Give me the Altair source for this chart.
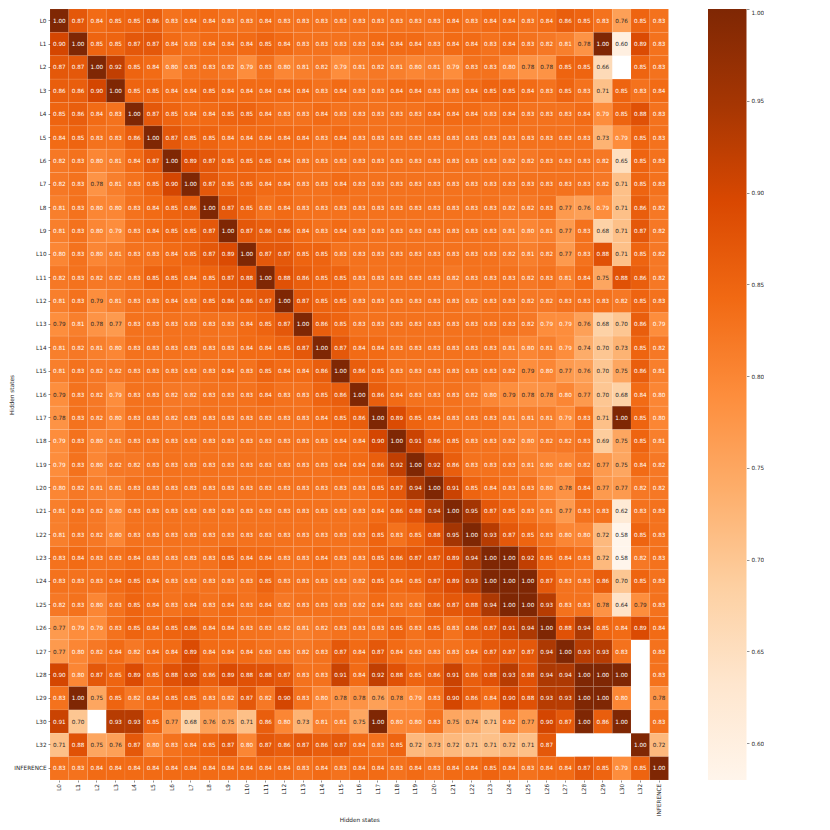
import altair as alt
import pandas as pd

LABELS = ["L%d" % i for i in range(31)] + ["L32", "INFERENCE"]

L0 = [1.00,.87,.84,.85,.85,.86,.83,.84,.84,.83,.83,.84,.83,.83,.83,.83,.83,.83,.83,.83,.83,.84,.83,.84,.84,.83,.84,.86,.85,.83,.76,.85,.83]
L1 = [.90,1.00,.85,.85,.87,.87,.84,.83,.84,.84,.84,.85,.84,.83,.83,.83,.83,.84,.84,.84,.83,.84,.84,.83,.84,.83,.82,.81,.78,1.00,.60,.89,.83]
L2 = [.87,.87,1.00,.92,.85,.84,.80,.83,.83,.82,.79,.83,.80,.81,.82,.79,.81,.82,.81,.80,.81,.79,.83,.83,.80,.78,.78,.85,.85,.66,None,.85,.83]
L3 = [.86,.86,.90,1.00,.85,.85,.84,.84,.85,.84,.84,.84,.84,.84,.83,.84,.83,.83,.84,.84,.83,.83,.84,.85,.85,.84,.83,.85,.83,.71,.85,.83,.84]
L4 = [.85,.86,.84,.83,1.00,.87,.85,.84,.84,.85,.85,.84,.83,.83,.84,.83,.83,.83,.83,.83,.84,.84,.84,.83,.84,.83,.83,.83,.84,.79,.85,.88,.83]
L5 = [.84,.85,.83,.83,.86,1.00,.87,.85,.85,.84,.84,.84,.84,.84,.83,.84,.83,.83,.83,.83,.83,.83,.83,.83,.83,.83,.83,.83,.83,.73,.79,.85,.83]
L6 = [.82,.83,.80,.81,.84,.87,1.00,.89,.87,.85,.85,.85,.84,.83,.83,.83,.83,.83,.83,.83,.83,.83,.83,.83,.82,.82,.83,.83,.83,.82,.65,.85,.83]
L7 = [.82,.83,.78,.81,.83,.85,.90,1.00,.87,.85,.85,.84,.84,.83,.83,.84,.83,.83,.83,.83,.83,.83,.83,.83,.83,.83,.83,.83,.83,.82,.71,.85,.83]
L8 = [.81,.83,.80,.80,.83,.84,.85,.86,1.00,.87,.85,.83,.84,.83,.83,.83,.83,.83,.83,.83,.83,.83,.83,.83,.82,.82,.83,.77,.76,.79,.71,.86,.82]
L9 = [.81,.83,.80,.79,.83,.84,.85,.85,.87,1.00,.87,.86,.86,.84,.83,.84,.83,.83,.83,.83,.83,.83,.83,.83,.81,.80,.81,.77,.83,.68,.71,.87,.82]
L10 = [.80,.83,.80,.81,.83,.83,.84,.85,.87,.89,1.00,.87,.87,.85,.85,.83,.83,.83,.83,.83,.83,.83,.83,.83,.82,.81,.82,.77,.83,.88,.71,.85,.82]
L11 = [.82,.83,.82,.82,.83,.85,.85,.84,.85,.87,.88,1.00,.88,.86,.85,.85,.83,.83,.83,.83,.83,.82,.83,.83,.83,.82,.83,.81,.84,.75,.88,.86,.82]
L12 = [.81,.83,.789,.81,.83,.83,.84,.83,.85,.86,.86,.87,1.00,.87,.85,.85,.83,.83,.83,.83,.83,.83,.82,.83,.83,.82,.82,.83,.83,.83,.82,.85,.83]
L13 = [.789,.81,.78,.77,.83,.83,.83,.83,.83,.83,.84,.85,.87,1.00,.86,.85,.83,.83,.83,.83,.83,.83,.83,.83,.83,.82,.79,.79,.76,.68,.70,.86,.79]
L14 = [.81,.82,.81,.80,.83,.83,.83,.83,.83,.83,.84,.84,.85,.87,1.00,.87,.84,.84,.83,.83,.83,.83,.83,.83,.81,.80,.81,.79,.74,.70,.73,.85,.82]
L15 = [.81,.83,.82,.82,.83,.83,.83,.83,.83,.84,.83,.85,.84,.84,.86,1.00,.86,.85,.83,.83,.83,.83,.83,.83,.82,.789,.80,.77,.76,.70,.75,.86,.81]
L16 = [.789,.83,.82,.79,.83,.83,.82,.82,.83,.83,.83,.84,.83,.83,.85,.86,1.00,.86,.84,.83,.83,.83,.82,.80,.789,.78,.78,.80,.77,.70,.68,.84,.80]
L17 = [.78,.83,.82,.80,.83,.83,.82,.83,.83,.83,.83,.83,.83,.83,.84,.85,.86,1.00,.89,.85,.84,.83,.83,.83,.81,.81,.81,.79,.83,.71,1.00,.85,.80]
L18 = [.79,.83,.80,.81,.83,.83,.83,.83,.83,.83,.83,.83,.83,.83,.83,.84,.84,.90,1.00,.91,.86,.85,.83,.83,.82,.80,.82,.82,.83,.69,.75,.85,.81]
L19 = [.79,.83,.80,.82,.82,.83,.83,.83,.83,.83,.83,.83,.83,.83,.83,.84,.84,.86,.92,1.00,.92,.86,.83,.83,.83,.81,.80,.80,.82,.77,.75,.84,.82]
L20 = [.80,.82,.81,.81,.83,.83,.83,.83,.83,.83,.83,.83,.83,.83,.83,.83,.83,.85,.87,.94,1.00,.91,.85,.84,.83,.83,.80,.78,.84,.77,.77,.82,.82]
L21 = [.81,.83,.82,.80,.83,.83,.83,.83,.83,.83,.83,.83,.83,.83,.83,.83,.83,.84,.86,.88,.94,1.00,.95,.87,.85,.83,.81,.77,.83,.83,.62,.83,.83]
L22 = [.81,.83,.82,.80,.83,.83,.83,.83,.83,.83,.83,.83,.83,.83,.83,.83,.83,.85,.83,.85,.88,.95,1.00,.93,.87,.85,.83,.80,.80,.72,.58,.85,.83]
L23 = [.83,.84,.83,.83,.84,.83,.83,.83,.83,.85,.84,.84,.83,.83,.84,.83,.83,.85,.86,.87,.87,.89,.94,1.00,1.00,.92,.85,.84,.83,.72,.58,.82,.83]
L24 = [.83,.83,.83,.84,.85,.84,.83,.83,.83,.83,.83,.85,.83,.83,.83,.83,.82,.85,.84,.85,.87,.89,.93,1.00,1.00,1.00,.87,.83,.83,.86,.70,.85,.83]
L25 = [.82,.83,.80,.83,.85,.84,.83,.84,.83,.84,.83,.84,.82,.83,.83,.83,.82,.84,.83,.83,.86,.87,.88,.94,1.00,1.00,.93,.83,.83,.78,.64,.789,.83]
L26 = [.77,.79,.79,.83,.85,.84,.85,.86,.84,.84,.83,.83,.82,.81,.82,.83,.83,.83,.85,.83,.85,.83,.86,.87,.91,.94,1.00,.88,.94,.85,.84,.89,.84]
L27 = [.77,.80,.82,.84,.82,.84,.84,.89,.84,.84,.84,.83,.83,.82,.83,.87,.84,.87,.84,.83,.83,.83,.84,.87,.87,.87,.94,1.00,.93,.93,.83,None,.83]
L28 = [.90,.80,.87,.85,.89,.85,.88,.90,.86,.89,.88,.88,.87,.83,.83,.91,.84,.92,.88,.85,.86,.91,.86,.88,.93,.88,.94,.94,1.00,1.00,1.00,None,.83]
L29 = [.83,1.00,.75,.85,.82,.84,.85,.85,.83,.82,.87,.82,.90,.83,.80,.78,.78,.76,.78,.79,.83,.90,.86,.84,.90,.88,.93,.93,1.00,1.00,.80,None,.78]
L30 = [.91,.70,None,.93,.93,.85,.77,.68,.76,.75,.71,.86,.80,.73,.81,.81,.75,1.00,.80,.80,.83,.75,.74,.71,.82,.77,.90,.87,1.00,.86,1.00,None,.83]
L32 = [.71,.88,.75,.76,.87,.80,.83,.84,.85,.87,.80,.87,.86,.87,.86,.87,.84,.83,.85,.72,.73,.72,.71,.71,.72,.71,.87,None,None,None,None,1.00,.72]
INFERENCE = [.83,.83,.84,.84,.84,.84,.84,.84,.84,.84,.84,.84,.84,.83,.84,.83,.84,.84,.83,.84,.83,.84,.84,.85,.84,.83,.84,.84,.87,.85,.79,.85,1.00]

ROWS = [L0,L1,L2,L3,L4,L5,L6,L7,L8,L9,L10,L11,L12,L13,L14,L15,L16,L17,L18,L19,L20,L21,L22,L23,L24,L25,L26,L27,L28,L29,L30,L32,INFERENCE]

ORANGES = ["#fff5eb","#fee6ce","#fdd0a2","#fdae6b","#fd8d3c","#f16913","#d94801","#a63603","#7f2704"]
VMIN, VMAX = 0.58, 1.0
STOPS = [VMIN + (VMAX - VMIN) * i / 8 for i in range(9)]
BAR_TICKS = [0.60, 0.65, 0.70, 0.75, 0.80, 0.85, 0.90, 0.95, 1.00]

records = [
    {"row": r, "col": c, "v": v}
    for r, vals in zip(LABELS, ROWS)
    for c, v in zip(LABELS, vals)
    if v is not None
]
df = pd.DataFrame(records)

FONT = "DejaVu Sans"
INK = "#262626"
FS = 5.7

x = alt.X("col:N", sort=LABELS, title="Hidden states",
          scale=alt.Scale(paddingInner=0, paddingOuter=0),
          axis=alt.Axis(labelAngle=270, labelPadding=1.5, tickSize=2, tickWidth=0.5,
                        domain=False, grid=False, titlePadding=1, labelOverlap=False))
y = alt.Y("row:N", sort=LABELS, title="Hidden states",
          scale=alt.Scale(paddingInner=0, paddingOuter=0),
          axis=alt.Axis(labelPadding=2, tickSize=2, tickWidth=0.5,
                        domain=False, grid=False, titlePadding=-1, labelOverlap=False))

rects = alt.Chart(df).mark_rect(stroke="white", strokeWidth=0.2, strokeOpacity=0.35).encode(
    x=x, y=y,
    color=alt.Color("v:Q", legend=None,
                    scale=alt.Scale(domain=STOPS, range=ORANGES, interpolate="rgb")),
)
texts = alt.Chart(df).mark_text(font=FONT, fontSize=FS, align="center", baseline="middle").encode(
    x=x, y=y,
    text=alt.Text("v:Q", format=".2f"),
    color=alt.condition(alt.datum.v < 0.79, alt.value(INK), alt.value("white")),
)
heat = alt.layer(rects, texts).properties(width=618.5, height=771)

grad = alt.Gradient(
    gradient="linear", x1=0, x2=0, y1=1, y2=0,
    stops=[alt.GradientStop(color=c, offset=i / 8) for i, c in enumerate(ORANGES)],
)
bar = alt.Chart(pd.DataFrame({"low": [VMIN], "high": [VMAX]})).mark_rect(fill=grad).encode(
    y=alt.Y("low:Q", scale=alt.Scale(domain=[VMIN, VMAX], nice=False, zero=False),
            axis=alt.Axis(orient="right", values=BAR_TICKS, format=".2f", title=None,
                          domain=False, grid=False, tickSize=2.5, tickWidth=0.5,
                          labelPadding=2, labelFlush=True)),
    y2="high:Q",
).properties(width=38.5, height=771)

chart = alt.hconcat(heat, bar, spacing=39).properties(
    padding={"left": 0, "top": 0, "right": 0, "bottom": 0}
).configure_view(stroke=None).configure_axis(
    labelFont=FONT, titleFont=FONT, labelFontSize=FS, titleFontSize=5.8,
    labelColor=INK, titleColor=INK, tickColor=INK, titleFontWeight="normal",
)

chart.save("out.html", embed_options={"renderer": "svg", "actions": False})
